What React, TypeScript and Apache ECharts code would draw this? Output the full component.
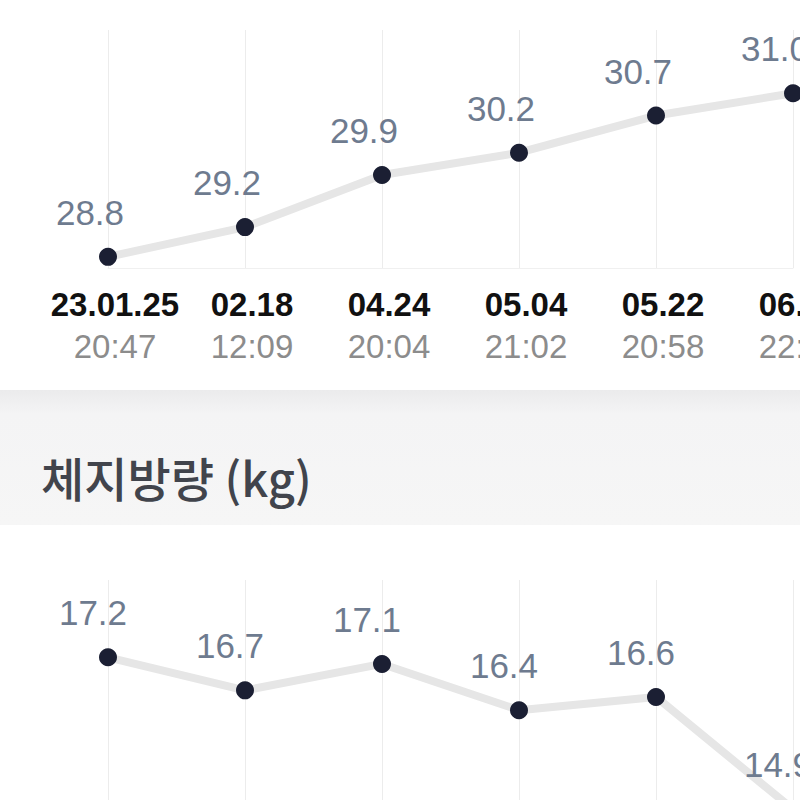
import React, { useRef, useEffect } from "react";
import * as echarts from "echarts";

const dates = ["23.01.25", "02.18", "04.24", "05.04", "05.22", "06.13"];
const times = ["20:47", "12:09", "20:04", "21:02", "20:58", "22:31"];
const muscleValues = [28.8, 29.2, 29.9, 30.2, 30.7, 31.0];
const fatValues = [17.2, 16.7, 17.1, 16.4, 16.6, 14.9];
const fatTitle = "체지방량 (kg)";

const numFont = "'Liberation Sans', Arial, sans-serif";

const App = function () {
  const chart = useRef<HTMLDivElement>(null);
  useEffect(() => {
    if (!chart.current) return;
    const myChart = echarts.init(chart.current, null, { renderer: "svg" });
    const valueLabel = (dx: number) => ({
      show: true,
      position: "top",
      distance: 18,
      offset: [dx, 0],
      color: "#6e7b8f",
      fontSize: 35,
      fontFamily: numFont,
      formatter: (p: any) => Number(p.value).toFixed(1),
    });
    const xBase = {
      type: "category",
      data: dates,
      boundaryGap: false,
      axisTick: { show: false },
      axisLine: { lineStyle: { color: "#f0f0f0", width: 1 } },
      splitLine: { show: true, lineStyle: { color: "#ececec", width: 1 } },
    };
    const option = {
      animation: false,
      backgroundColor: "#ffffff",
      graphic: [
        {
          type: "rect",
          z: -10,
          shape: { x: 0, y: 390, width: 800, height: 135 },
          style: {
            fill: new echarts.graphic.LinearGradient(0, 0, 0, 1, [
              { offset: 0, color: "#ebebec" },
              { offset: 0.18, color: "#f4f4f5" },
              { offset: 1, color: "#f6f6f6" },
            ]),
          },
        },
        {
          type: "text",
          x: 41,
          y: 476,
          style: {
            text: fatTitle,
            fontSize: 47,
            fontWeight: 500,
            fontFamily: "'Noto Sans CJK KR', sans-serif",
            fill: "#41444c",
            verticalAlign: "middle",
          },
        },
      ],
      grid: [
        { left: 108, right: 7, top: 30, height: 238, outerBoundsMode: "none" },
        { left: 108, right: 7, top: 580, height: 300, outerBoundsMode: "none" },
      ],
      xAxis: [
        {
          ...xBase,
          gridIndex: 0,
          axisLabel: {
            interval: 0,
            margin: 15,
            padding: [0, 0, 0, 14],
            formatter: (v: string, i: number) => `{d|${v}}\n{t|${times[i]}}`,
            rich: {
              d: {
                fontSize: 33,
                fontWeight: "bold",
                color: "#111111",
                lineHeight: 42,
                fontFamily: numFont,
              },
              t: {
                fontSize: 33,
                color: "#8c8c8c",
                lineHeight: 42,
                fontFamily: numFont,
              },
            },
          },
        },
        {
          ...xBase,
          gridIndex: 1,
          axisLabel: { show: false },
        },
      ],
      yAxis: [
        { type: "value", gridIndex: 0, min: 28.65, max: 31.85, show: false, splitLine: { show: false } },
        { type: "value", gridIndex: 1, min: 13.83, max: 18.37, show: false, splitLine: { show: false } },
      ],
      series: [
        {
          type: "line",
          xAxisIndex: 0,
          yAxisIndex: 0,
          data: muscleValues,
          symbol: "circle",
          symbolSize: 18,
          itemStyle: { color: "#1b1f33" },
          lineStyle: { color: "#e6e6e6", width: 8 },
          label: valueLabel(-18),
        },
        {
          type: "line",
          xAxisIndex: 1,
          yAxisIndex: 1,
          data: fatValues,
          symbol: "circle",
          symbolSize: 18,
          itemStyle: { color: "#1b1f33" },
          lineStyle: { color: "#e6e6e6", width: 8 },
          label: valueLabel(-15),
        },
      ],
    };
    myChart.setOption(option as any);
    return () => {
      myChart.dispose();
    };
  }, []);
  return (
    <div
      ref={chart}
      style={{ position: "absolute", left: 0, top: 0, width: 800, height: 800 }}
    ></div>
  );
};
export default App;
